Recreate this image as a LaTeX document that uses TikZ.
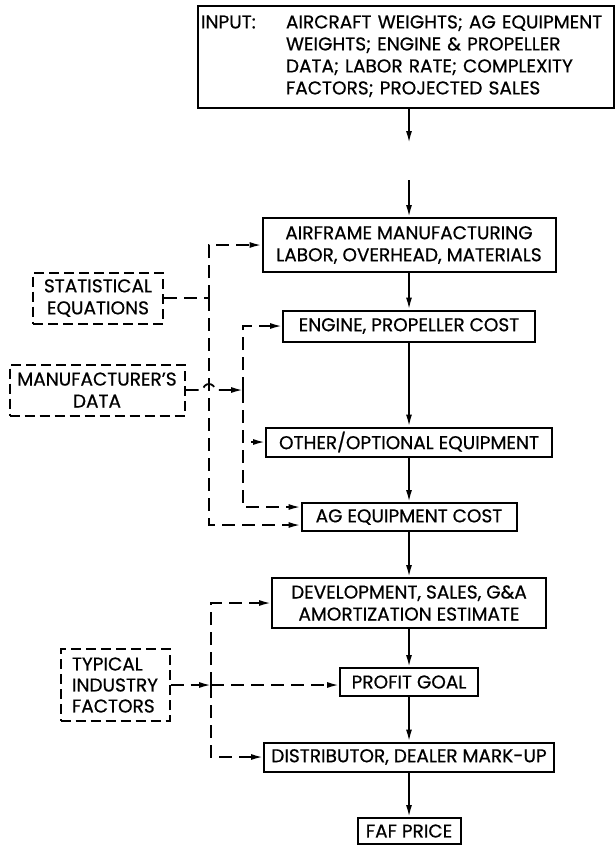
\documentclass[tikz,border=0pt]{standalone}
\usepackage{fontspec}
\setmainfont{Poppins}[UprightFeatures={FakeBold=0.6}]
\usetikzlibrary{arrows.meta, positioning}

\tikzset{
  box/.style={draw, line width=2pt, inner sep=0pt, align=center, font=\fontsize{18.5}{22}\selectfont},
  srcbox/.style={box, dash pattern=on 10pt off 5pt},
  flow/.style={-{Latex[length=12pt,width=6pt]}, line width=1.8pt},
  dashflow/.style={flow, dash pattern=on 13pt off 7pt},
  dashline/.style={line width=1.8pt, dash pattern=on 13pt off 7pt},
}

\begin{document}
\begin{tikzpicture}[x=1pt, y=-1pt]
\useasboundingbox (0,0) rectangle (614,846);

% nodes
\node[box, anchor=north west, minimum width=416pt, minimum height=102pt, text width=410pt, align=left] (input) at (197,5)
  {\begin{tabular}{@{}p{85pt}@{}l@{}}INPUT: & AIRCRAFT WEIGHTS; AG EQUIPMENT\\
   & WEIGHTS; ENGINE \& PROPELLER\\
   & DATA; LABOR RATE; COMPLEXITY\\
   & FACTORS; PROJECTED SALES\end{tabular}};

\node[box, minimum width=293pt, minimum height=54pt] (airframe) at (409,245) {AIRFRAME MANUFACTURING\\LABOR, OVERHEAD, MATERIALS};
\node[box, minimum width=252pt, minimum height=31pt] (engine) at (409,326) {ENGINE, PROPELLER COST};
\node[box, minimum width=286pt, minimum height=29pt] (other) at (409,442) {OTHER/OPTIONAL EQUIPMENT};
\node[box, minimum width=215pt, minimum height=28pt] (ag) at (409,517) {AG EQUIPMENT COST};
\node[box, minimum width=274pt, minimum height=50pt] (dev) at (409,603) {DEVELOPMENT, SALES, G\&A\\AMORTIZATION ESTIMATE};
\node[box, minimum width=138pt, minimum height=28pt] (profit) at (409,682) {PROFIT GOAL};
\node[box, minimum width=290pt, minimum height=29pt] (dist) at (409,757) {DISTRIBUTOR, DEALER MARK-UP};
\node[box, minimum width=103pt, minimum height=26pt, anchor=north] (faf) at (409,817) {FAF PRICE};

\node[srcbox, minimum width=130pt, minimum height=51pt] (stat) at (98,298) {STATISTICAL\\EQUATIONS};
\node[srcbox, minimum width=175pt, minimum height=51pt] (manuf) at (97,390) {MANUFACTURER'S\\DATA};
\node[srcbox, minimum width=109pt, minimum height=72pt, align=left, font=\fontsize{18.5}{21}\selectfont] (typical) at (115,685) {TYPICAL\\INDUSTRY\\FACTORS};

\coordinate (gapA) at (409,143);
\coordinate (gapB) at (409,180);
\coordinate (statbus) at (209,298);
\coordinate (manbus) at (243,390);
\coordinate (indbus) at (211,685);

% arrows
\draw[flow] (input.south -| gapA) -- (gapA);
\draw[flow] (gapB) -- (airframe);
\draw[flow] (airframe) -- (engine);
\draw[flow] (engine) -- (other);
\draw[flow] (other) -- (ag);
\draw[flow] (ag) -- (dev);
\draw[flow] (dev) -- (profit);
\draw[flow] (profit) -- (dist);
\draw[flow] (dist) -- (faf);

\draw[dashline] (stat) -- (statbus);
\draw[dashflow] (statbus) |- (airframe);
\draw[dashflow] (statbus) |- ([yshift=-8pt]ag.west);

\draw[dashflow] (manuf.east) -- ([xshift=-6pt]statbus |- manuf.east) arc[start angle=180, end angle=0, radius=6pt] -- (manbus);
\draw[dashflow] (manbus) |- (engine);
\draw[dashflow] (manbus) |- (other);
\draw[dashflow] (manbus) |- ([yshift=10pt]ag.west);

\draw[dashflow] (typical) -- (indbus);
\draw[dashflow] (indbus) |- (dev);
\draw[dashflow] (indbus) -- (indbus -| profit.west);
\draw[dashflow] (indbus) |- (dist);

\end{tikzpicture}
\end{document}
